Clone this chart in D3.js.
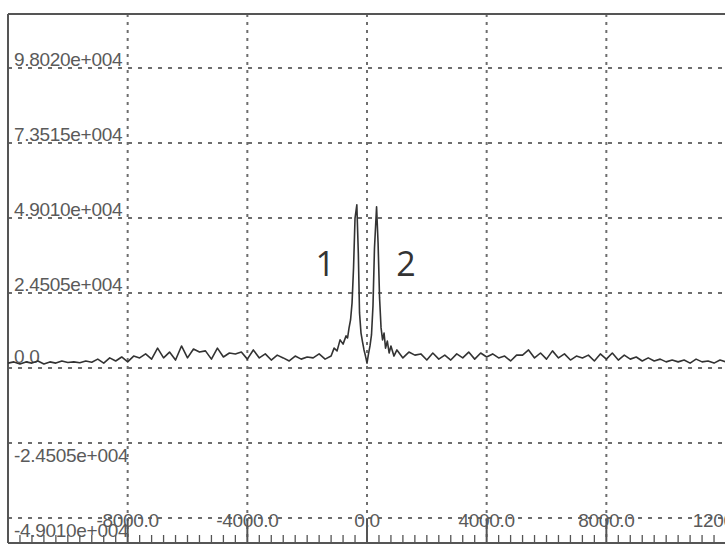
<!DOCTYPE html>
<html>
<head>
<meta charset="utf-8">
<script src="https://cdn.jsdelivr.net/npm/d3@7"></script>
<style>
  html, body { margin: 0; padding: 0; background: #fff; }
  svg { display: block; }
</style>
</head>
<body>
<svg id="chart" width="725" height="546"></svg>
<script>
// ---- data ----
const freq = [
  -12000,-11800,-11600,-11400,-11200,-11000,-10800,-10600,-10400,-10200,
  -10000,-9800,-9600,-9400,-9200,-9000,-8800,-8600,-8400,-8200,
  -8000,-7800,-7600,-7400,-7200,-7000,-6800,-6600,-6400,-6200,
  -6000,-5800,-5600,-5400,-5200,-5000,-4800,-4600,-4400,-4200,
  -4000,-3800,-3600,-3400,-3200,-3000,-2800,-2600,-2400,-2200,
  -2000,-1800,-1600,-1400,-1200,-1100,-1000,-900,-800,-700,
  -650,-600,-550,-500,-450,-400,-340,-290,-250,-200,
  -150,-100,-50,0,50,100,150,200,250,320,
  370,420,470,520,570,620,680,740,800,900,
  1000,1200,1400,1600,1800,2000,2200,2400,2600,2800,
  3000,3200,3400,3600,3800,4000,4200,4400,4600,4800,
  5000,5200,5400,5600,5800,6000,6200,6400,6600,6800,
  7000,7200,7400,7600,7800,8000,8200,8400,8600,8800,
  9000,9200,9400,9600,9800,10000,10200,10400,10600,10800,
  11000,11200,11400,11600,11800,12000
];
const amplitude = [
  1600,2000,1300,2000,1600,2300,1300,2000,1600,2300,
  1800,2000,1700,2300,1900,2900,1600,3300,2300,3600,
  2000,3900,3300,4600,2900,6500,3300,5200,2600,7200,
  3300,6200,5200,5600,2900,6500,3600,4900,4600,5200,
  2900,5900,3300,4600,2600,4200,3300,2300,3900,2900,
  3600,3300,4600,2900,3900,6500,5600,9200,7800,10500,
  9800,13100,15700,21200,32700,49000,53300,37600,18000,11400,
  8500,5900,3900,1600,4600,7200,10800,20300,39200,52650,
  40900,22900,13100,9200,11400,6500,8800,4900,7200,3900,
  5900,3300,5200,4200,4600,2600,4900,2900,4200,2600,
  4600,3300,5200,2900,4900,3600,4600,3300,3900,2300,
  4200,4200,5900,3300,4900,2900,5600,3300,4600,2600,
  3900,3300,4200,2300,4600,2900,4900,2600,4200,2900,
  3600,2300,3300,2300,2900,2000,2600,2000,2600,1600,
  2900,2000,2300,1600,2600,2000
];
const yTickValues = [98020, 73515, 49010, 24505, 0, -24505, -49010];
const yTickLabels = ["9.8020e+004","7.3515e+004","4.9010e+004","2.4505e+004","0.0","-2.4505e+004","-4.9010e+004"];
const xTickValues = [-8000, -4000, 0, 4000, 8000, 12000];
const xTickLabels = ["-8000.0","-4000.0","0.0","4000.0","8000.0","12000.0"];
const peakLabels = [
  { text: "1", freq: -1400, value: 30000 },
  { text: "2", freq: 1300, value: 30000 }
];

// ---- layout ----
const svg = d3.select("#chart");
const pLeft = 8, pTop = 14, pBottom = 543, pRight = 726;
const x = d3.scaleLinear().domain([-12000, 12000]).range([pLeft, pRight]);
const y = d3.scaleLinear().domain([-57178, 115663]).range([pBottom, pTop]);

const gridColor = "#6e6e6e";
const textColor = "#5a5a5a";

// horizontal grid
svg.append("g").selectAll("line").data(yTickValues).join("line")
  .attr("x1", pLeft).attr("x2", 725)
  .attr("y1", d => y(d)).attr("y2", d => y(d))
  .attr("stroke", gridColor).attr("stroke-width", 2)
  .attr("stroke-dasharray", "4,6");

// vertical grid
svg.append("g").selectAll("line").data(xTickValues).join("line")
  .attr("x1", d => x(d)).attr("x2", d => x(d))
  .attr("y1", pTop).attr("y2", pBottom)
  .attr("stroke", gridColor).attr("stroke-width", 2)
  .attr("stroke-dasharray", "3,5");

// bottom axis with minor ticks
const minorTicks = d3.range(-12000, 12001, 400);
svg.append("g").selectAll("line").data(minorTicks).join("line")
  .attr("x1", d => x(d)).attr("x2", d => x(d))
  .attr("y1", pBottom).attr("y2", d => (d % 4000 === 0 ? pBottom - 24 : pBottom - 8))
  .attr("stroke", "#555").attr("stroke-width", d => (d % 4000 === 0 ? 2 : 1.3));

// frame
svg.append("line").attr("x1", pLeft).attr("x2", 725).attr("y1", pTop).attr("y2", pTop)
  .attr("stroke", "#555").attr("stroke-width", 2);
svg.append("line").attr("x1", pLeft).attr("x2", pLeft).attr("y1", pTop).attr("y2", pBottom)
  .attr("stroke", "#555").attr("stroke-width", 2);
svg.append("line").attr("x1", pLeft).attr("x2", 725).attr("y1", pBottom).attr("y2", pBottom)
  .attr("stroke", "#555").attr("stroke-width", 2);

// y labels
svg.append("g").selectAll("text").data(yTickValues).join("text")
  .attr("x", 14)
  .attr("y", d => d >= 0 ? y(d) - (d === 0 ? 5 : 2) : y(d) + 19)
  .attr("font-family", "'Liberation Sans', Arial, sans-serif")
  .attr("font-size", 19).attr("fill", textColor)
  .attr("letter-spacing", -0.3)
  .text((d, i) => yTickLabels[i]);

// x labels
svg.append("g").selectAll("text").data(xTickValues).join("text")
  .attr("x", d => x(d))
  .attr("y", y(-49010) + 9)
  .attr("text-anchor", "middle")
  .attr("font-family", "'Liberation Sans', Arial, sans-serif")
  .attr("font-size", 19).attr("fill", textColor)
  .attr("letter-spacing", -0.3)
  .text((d, i) => xTickLabels[i]);

// signal
const pts = freq.map((f, i) => [f, amplitude[i]]);
svg.append("path")
  .datum(pts)
  .attr("fill", "none")
  .attr("stroke", "#333")
  .attr("stroke-width", 1.6)
  .attr("stroke-linejoin", "round")
  .attr("d", d3.line().x(d => x(d[0])).y(d => y(d[1])));

// peak labels
svg.append("g").selectAll("text").data(peakLabels).join("text")
  .attr("x", d => x(d.freq))
  .attr("y", d => y(d.value))
  .attr("text-anchor", "middle")
  .attr("font-family", "'Open Sans', 'Liberation Sans', sans-serif")
  .attr("font-size", 34).attr("fill", "#333")
  .text(d => d.text);
</script>
</body>
</html>
